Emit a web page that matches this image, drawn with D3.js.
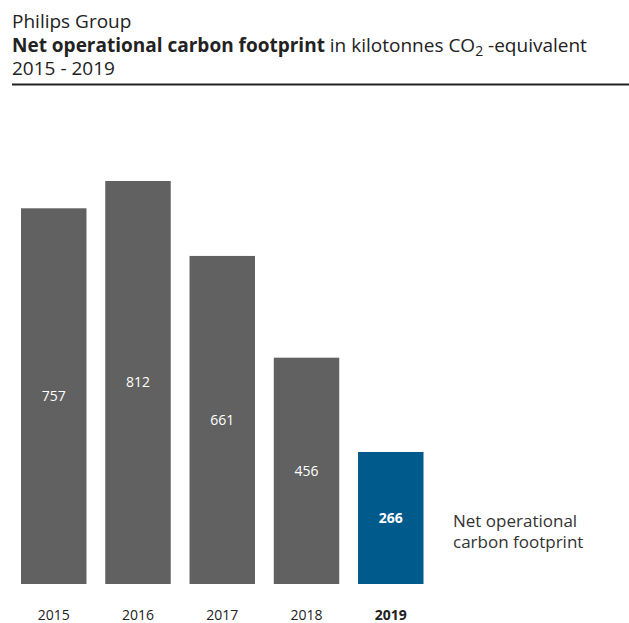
<!DOCTYPE html>
<html>
<head>
<meta charset="utf-8">
<script src="https://cdn.jsdelivr.net/npm/d3@7"></script>
<style>
  body { margin: 0; background: #fff; }
  text { font-family: "Open Sans", Lato, sans-serif; }
</style>
</head>
<body>
<div id="chart"></div>
<script>
const width = 629;
const height = 623;

const years = ["2015", "2016", "2017", "2018", "2019"];
const values = [757, 812, 661, 456, 266];
const highlightYear = "2019";
const legendLines = ["Net operational", "carbon footprint"];

const svg = d3.select("#chart")
              .append("svg")
              .attr("width", width)
              .attr("height", height);

// title block
const title = svg.append("g").attr("fill", "#222");

title.append("text")
     .attr("x", 12)
     .attr("y", 28)
     .attr("font-size", 19)
     .text("Philips Group");

const t2 = title.append("text")
                .attr("x", 12)
                .attr("y", 52)
                .attr("font-size", 19);
t2.append("tspan").attr("font-weight", "bold").text("Net operational carbon footprint");
t2.append("tspan").text(" in kilotonnes CO");
t2.append("tspan").attr("font-size", 14).attr("dy", 4).text("2");
t2.append("tspan").attr("dy", -4).text(" -equivalent");

title.append("text")
     .attr("x", 12)
     .attr("y", 75)
     .attr("font-size", 19)
     .text("2015 - 2019");

svg.append("line")
   .attr("x1", 12)
   .attr("x2", width)
   .attr("y1", 84.5)
   .attr("y2", 84.5)
   .attr("stroke", "#222")
   .attr("stroke-width", 2);

// bars
const x = d3.scaleBand()
            .domain(years)
            .range([21, 423.5])
            .paddingInner(0.223)
            .paddingOuter(0);

const y = d3.scaleLinear()
            .domain([0, 812])
            .range([584, 181]);

const data = years.map((yr, i) => ({ year: yr, value: values[i] }));

const bar = svg.append("g")
               .selectAll("g")
               .data(data)
               .enter()
               .append("g");

bar.append("rect")
   .attr("x", d => x(d.year))
   .attr("y", d => y(d.value))
   .attr("width", x.bandwidth())
   .attr("height", d => y(0) - y(d.value))
   .attr("fill", d => d.year === highlightYear ? "#005a8c" : "#616161");

bar.append("text")
   .attr("x", d => x(d.year) + x.bandwidth() / 2)
   .attr("y", d => (y(d.value) + y(0)) / 2)
   .attr("dy", "0.35em")
   .attr("text-anchor", "middle")
   .attr("fill", "#fff")
   .attr("font-size", 14)
   .attr("font-weight", d => d.year === highlightYear ? "bold" : "normal")
   .text(d => d.value);

// year labels
svg.append("g")
   .selectAll("text")
   .data(years)
   .enter()
   .append("text")
   .attr("x", d => x(d) + x.bandwidth() / 2)
   .attr("y", 620)
   .attr("text-anchor", "middle")
   .attr("fill", "#222")
   .attr("font-size", 14)
   .attr("font-weight", d => d === highlightYear ? "bold" : "normal")
   .text(d => d);

// legend label next to highlighted bar
svg.append("g")
   .selectAll("text")
   .data(legendLines)
   .enter()
   .append("text")
   .attr("x", 453)
   .attr("y", (d, i) => 527 + i * 21)
   .attr("fill", "#333")
   .attr("font-size", 17)
   .text(d => d);
</script>
</body>
</html>
